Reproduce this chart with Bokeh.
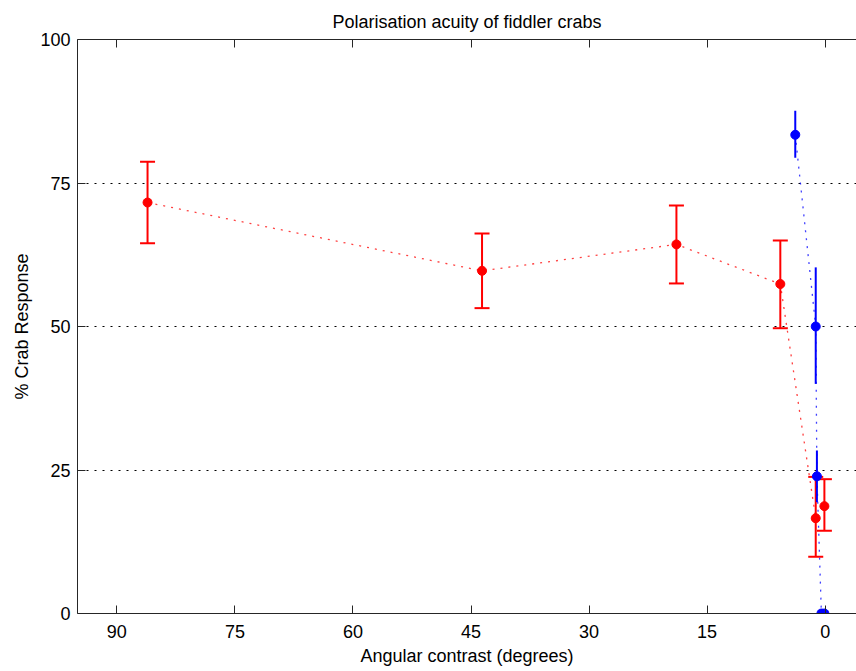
from bokeh.plotting import figure
from bokeh.models import (Range1d, FixedTicker, Whisker, TeeHead, ColumnDataSource,
                          LinearAxis, CustomJSTickFormatter)
from bokeh.embed import file_html
from bokeh.resources import INLINE

title_text = "Polarisation acuity of fiddler crabs"
x_label = "Angular contrast (degrees)"
y_label = "% Crab Response"
x_ticks = [90, 75, 60, 45, 30, 15, 0]
y_ticks = [0, 25, 50, 75, 100]
grid_levels = [25, 50, 75]

red_x = [86.1, 43.6, 18.9, 5.7, 1.2, 0.1]
red_y = [71.6, 59.7, 64.3, 57.4, 16.6, 18.7]
red_lower = [64.5, 53.2, 57.5, 49.7, 9.9, 14.4]
red_upper = [78.7, 66.2, 71.1, 65.0, 23.8, 23.4]

blue_x = [3.8, 1.2, 1.05, 0.48, 0.1]
blue_y = [83.4, 50.0, 23.9, 0.0, 0.0]
blue_lower = [79.4, 40.0, 19.4, 0.0, 0.0]
blue_upper = [87.6, 60.3, 28.4, 0.0, 0.0]

FONT = "Liberation Sans"
AX = "#262626"

p = figure(width=856, height=671, x_range=Range1d(95, -3.98), y_range=Range1d(0, 100),
           title=title_text,
           output_backend="svg", toolbar_location=None,
           min_border_left=77, min_border_right=0, min_border_top=39, min_border_bottom=58)
p.outline_line_color = None
p.background_fill_color = "white"
p.border_fill_color = "white"

p.title.align = "center"
p.title.text_font = FONT
p.title.text_font_size = "18px"
p.title.text_font_style = "normal"
p.title.text_color = "black"
p.title.standoff = 15

bottom_axis = p.below[0]
left_axis = p.left[0]
top_axis = LinearAxis(formatter=CustomJSTickFormatter(code="return ''"))
p.add_layout(top_axis, "above")

for ax in [bottom_axis, top_axis]:
    ax.ticker = FixedTicker(ticks=x_ticks)
left_axis.ticker = FixedTicker(ticks=y_ticks)

for ax in [bottom_axis, left_axis, top_axis]:
    ax.major_tick_in = 8
    ax.major_tick_out = 0
    ax.minor_tick_line_color = None
    ax.axis_line_color = AX
    ax.major_tick_line_color = AX
    ax.major_label_text_font = FONT
    ax.major_label_text_font_size = "18px"
    ax.major_label_text_color = "black"
    ax.axis_label_text_font = FONT
    ax.axis_label_text_font_size = "18px"
    ax.axis_label_text_font_style = "normal"
    ax.axis_label_text_color = "black"
top_axis.major_label_text_font_size = "0px"
top_axis.major_label_standoff = 0

bottom_axis.major_label_standoff = 11
bottom_axis.axis_label = x_label
bottom_axis.axis_label_standoff = 5
left_axis.major_label_standoff = 7
left_axis.axis_label = y_label
left_axis.axis_label_standoff = 5

p.xgrid.visible = False
p.ygrid.ticker = FixedTicker(ticks=grid_levels)
p.ygrid.grid_line_color = "black"
p.ygrid.grid_line_dash = "2 6"
p.ygrid.grid_line_width = 1

red_src = ColumnDataSource(dict(x=red_x, y=red_y, lower=red_lower, upper=red_upper))
blue_src = ColumnDataSource(dict(x=blue_x, y=blue_y, lower=blue_lower, upper=blue_upper))

p.line("x", "y", source=red_src, line_color="red", line_dash="2 6", line_width=1.3, line_alpha=0.75)
p.line("x", "y", source=blue_src, line_color="blue", line_dash="2 6", line_width=1.3, line_alpha=0.75)

rw = Whisker(base="x", lower="lower", upper="upper", source=red_src, dimension="height",
             line_color="red", line_width=2,
             upper_head=TeeHead(size=15, line_color="red", line_width=2),
             lower_head=TeeHead(size=15, line_color="red", line_width=2))
p.add_layout(rw)
p.segment(x0="x", y0="lower", x1="x", y1="upper", source=blue_src, line_color="blue", line_width=2)

p.scatter("x", "y", source=red_src, size=9, color="red")
p.scatter("x", "y", source=blue_src, size=9, color="blue")

open("out.html", "w").write(file_html(p, INLINE))
